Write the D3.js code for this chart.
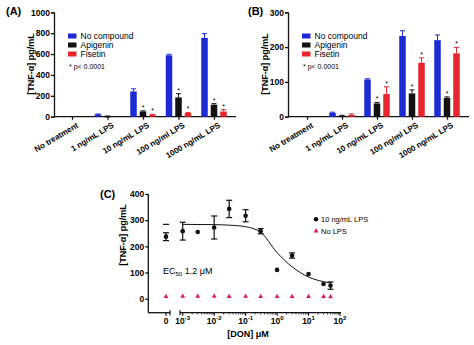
<!DOCTYPE html>
<html>
<head>
<meta charset="utf-8">
<script src="https://cdn.jsdelivr.net/npm/d3@7"></script>
<style>
  body { margin: 0; background: #fff; }
  svg { font-family: "Liberation Sans", Arial, sans-serif; }
  .ax text { font-weight: bold; font-size: 8.5px; }
  .ax path, .ax line { stroke: #111; stroke-width: 1.3; }
</style>
</head>
<body>
<div id="chart"></div>
<script>
// categories and series for panels A and B
const treatments = ["No treatment", "1 ng/mL LPS", "10 ng/mL LPS", "100 ng/ml LPS", "1000 ng/mL LPS"];
const seriesNames = ["No compound", "Apigenin", "Fisetin"];
const seriesColors = ["#1c2bd4", "#111111", "#e8252d"];

// panel A means and upper error (null = no bar)
const aNoCompound = [null, 23, 242, 588, 755];
const aNoCompoundErr = [null, 3, 25, 10, 40];
const aApigenin = [null, 5, 50, 185, 115];
const aApigeninErr = [null, 2, 6, 35, 10];
const aFisetin = [null, null, 18, 35, 50];
const aFisetinErr = [null, null, 4, 6, 18];
const aStars = [[], [], [false, true, true], [false, true, true], [false, true, true]];

// panel B
const bNoCompound = [null, 11, 107, 232, 220];
const bNoCompoundErr = [null, 2, 2, 15, 15];
const bApigenin = [null, 3, 38, 67, 54];
const bApigeninErr = [null, 1, 3, 10, 3];
const bFisetin = [null, 5, 65, 155, 182];
const bFisetinErr = [null, 3, 21, 14, 17];
const bStars = [[], [], [false, true, true], [false, true, true], [false, true, true]];

// panel C: DON dose response
const donDose = [0, 0.001, 0.003, 0.01, 0.03, 0.1, 0.3, 1, 3, 10, 30, 50];
const lpsMean = [237, 258, 255, 272, 343, 317, 258, 110, 165, 94, 56, 50];
const lpsErr = [15, 34, 0, 44, 33, 23, 10, 0, 10, 0, 0, 14];
const noLpsMean = [8, 9, 9, 9, 8, 9, 8, 8, 8, 8, 8, 7];
// fitted curve
const fitDose = [0.001, 0.01, 0.03, 0.1, 0.3, 1, 3, 10, 30, 50];
const fitValue = [284, 283, 281, 275, 254, 176, 122, 83, 65, 60];
const fitTop = 284;

const svg = d3.select('#chart').append('svg')
    .attr('width', 474)
    .attr('height', 345);

function barPanel(opt) {
    const g = svg.append('g');
    const x = d3.scalePoint().domain(treatments).range(opt.xr);
    const y = d3.scaleLinear().domain([0, opt.ymax]).range([116.7, 12.3]);
    const offsets = [-9.5, 0, 9.5];
    const bw = 6.5;

    // y axis
    g.append('g').attr('class', 'ax')
        .attr('transform', `translate(${opt.x0},0)`)
        .call(d3.axisLeft(y).ticks(opt.ticks, 'd').tickSize(3).tickPadding(1));
    // x axis
    const xa = g.append('g').attr('class', 'ax')
        .attr('transform', 'translate(0,116.7)')
        .call(d3.axisBottom(x).tickSize(3).tickFormat(''));
    xa.select('.domain').remove();
    g.append('line')
        .attr('x1', opt.x0).attr('x2', opt.x1)
        .attr('y1', 116.7).attr('y2', 116.7)
        .attr('stroke', '#111').attr('stroke-width', 1.3);

    g.selectAll('.xl').data(treatments).enter().append('text')
        .attr('transform', d => `translate(${x(d) + 4},122) rotate(-31)`)
        .attr('text-anchor', 'end')
        .attr('dy', '0.7em')
        .style('font-size', '8px')
        .style('font-weight', 'bold')
        .text(d => d);

    opt.series.forEach((s, si) => {
        treatments.forEach((t, i) => {
            const v = s.mean[i];
            if (v === null) return;
            const cx = x(t) + offsets[si];
            const top = y(v + s.err[i]);
            g.append('line')
                .attr('x1', cx).attr('x2', cx)
                .attr('y1', y(v)).attr('y2', top)
                .attr('stroke', seriesColors[si]).attr('stroke-width', 1);
            g.append('line')
                .attr('x1', cx - 2.5).attr('x2', cx + 2.5)
                .attr('y1', top).attr('y2', top)
                .attr('stroke', seriesColors[si]).attr('stroke-width', 1);
            g.append('rect')
                .attr('x', cx - bw / 2)
                .attr('y', y(v))
                .attr('width', bw)
                .attr('height', Math.max(1.2, y(0) - y(v)))
                .attr('fill', seriesColors[si]);
            if (opt.stars[i][si]) {
                g.append('text')
                    .attr('x', cx).attr('y', top - 1)
                    .attr('text-anchor', 'middle')
                    .style('font-size', '7px')
                    .text('*');
            }
        });
    });

    // legend
    seriesNames.forEach((n, i) => {
        g.append('rect')
            .attr('x', opt.lx).attr('y', 33.5 + i * 9)
            .attr('width', 8.5).attr('height', 5)
            .attr('fill', seriesColors[i]);
        g.append('text')
            .attr('x', opt.lx + 12.5).attr('y', 36 + i * 9)
            .attr('dy', '0.35em')
            .style('font-size', '8.5px')
            .text(n);
    });
    g.append('text')
        .attr('x', opt.lx + 1).attr('y', 67)
        .attr('dy', '0.35em')
        .style('font-size', '7px')
        .text('* p< 0.0001');

    // titles
    g.append('text')
        .attr('transform', `translate(${opt.x0 - 23},64) rotate(-90)`)
        .attr('text-anchor', 'middle')
        .attr('dy', '0.35em')
        .style('font-size', '9px')
        .style('font-weight', 'bold')
        .text('[TNF-α] pg/mL');
    g.append('text')
        .attr('x', opt.labelX).attr('y', 15)
        .style('font-size', '11px')
        .style('font-weight', 'bold')
        .text(opt.label);
}

barPanel({
    x0: 54, x1: 236, xr: [72, 214], ymax: 1000, ticks: 5,
    series: [
        { mean: aNoCompound, err: aNoCompoundErr },
        { mean: aApigenin, err: aApigeninErr },
        { mean: aFisetin, err: aFisetinErr }
    ],
    stars: aStars, lx: 68, label: '(A)', labelX: 6
});

barPanel({
    x0: 288, x1: 469, xr: [307, 447], ymax: 300, ticks: 3,
    series: [
        { mean: bNoCompound, err: bNoCompoundErr },
        { mean: bApigenin, err: bApigeninErr },
        { mean: bFisetin, err: bFisetinErr }
    ],
    stars: bStars, lx: 302, label: '(B)', labelX: 248
});

// ---- panel C ----
const gc = svg.append('g');
const yc = d3.scaleLinear().domain([0, 400]).range([298.7, 194]);
const xc = d3.scaleLog().domain([1e-3, 1e2]).range([182.7, 340]);
const xZero = 166;
const axisY = 312.7;
const px = d => d === 0 ? xZero : xc(d);

gc.append('g').attr('class', 'ax')
    .attr('transform', 'translate(148.3,0)')
    .call(d3.axisLeft(yc).ticks(4).tickSize(3).tickPadding(1))
    .select('.domain').remove();
gc.append('line')
    .attr('x1', 148.3).attr('x2', 148.3)
    .attr('y1', 194).attr('y2', axisY)
    .attr('stroke', '#111').attr('stroke-width', 1.3);

// broken x axis
[[148.3, 170], [180, 341]].forEach(([a, b]) => {
    gc.append('line')
        .attr('x1', a).attr('x2', b)
        .attr('y1', axisY).attr('y2', axisY)
        .attr('stroke', '#111').attr('stroke-width', 1.3);
});
[170, 180].forEach(xx => {
    gc.append('line')
        .attr('x1', xx).attr('x2', xx)
        .attr('y1', axisY - 2.5).attr('y2', axisY + 2.5)
        .attr('stroke', '#111').attr('stroke-width', 1.2);
});
gc.append('line')
    .attr('x1', xZero).attr('x2', xZero)
    .attr('y1', axisY).attr('y2', axisY + 3)
    .attr('stroke', '#111').attr('stroke-width', 1.2);
gc.append('text')
    .attr('x', xZero).attr('y', axisY + 11)
    .attr('text-anchor', 'middle')
    .style('font-size', '8.5px').style('font-weight', 'bold')
    .text('0');

const majorTicks = [-3, -2, -1, 0, 1, 2];
const minorTicks = xc.ticks().filter(t => Math.abs(Math.log10(t) % 1) > 1e-6);
gc.selectAll('.mt').data(minorTicks).enter().append('line')
    .attr('x1', d => xc(d)).attr('x2', d => xc(d))
    .attr('y1', axisY).attr('y2', axisY + 1.8)
    .attr('stroke', '#111').attr('stroke-width', 0.8);
majorTicks.forEach(p => {
    const xx = xc(Math.pow(10, p));
    gc.append('line')
        .attr('x1', xx).attr('x2', xx)
        .attr('y1', axisY).attr('y2', axisY + 3)
        .attr('stroke', '#111').attr('stroke-width', 1.2);
    const t = gc.append('text')
        .attr('x', xx).attr('y', axisY + 11)
        .attr('text-anchor', 'middle')
        .style('font-size', '8.5px').style('font-weight', 'bold');
    t.append('tspan').text('10');
    t.append('tspan').attr('dy', -3.5).style('font-size', '6px').text(p);
});

gc.append('text')
    .attr('x', 248).attr('y', 337)
    .attr('text-anchor', 'middle')
    .style('font-size', '9px').style('font-weight', 'bold')
    .text('[DON] μM');
gc.append('text')
    .attr('transform', 'translate(123,235) rotate(-90)')
    .attr('text-anchor', 'middle')
    .attr('dy', '0.35em')
    .style('font-size', '9px').style('font-weight', 'bold')
    .text('[TNF-α] pg/mL');
gc.append('text')
    .attr('x', 100).attr('y', 198)
    .style('font-size', '11px').style('font-weight', 'bold')
    .text('(C)');

// fitted curve
const line = d3.line()
    .x(d => xc(d[0]))
    .y(d => yc(d[1]))
    .curve(d3.curveMonotoneX);
gc.append('path')
    .datum(d3.zip(fitDose, fitValue))
    .attr('d', line)
    .attr('fill', 'none')
    .attr('stroke', '#111')
    .attr('stroke-width', 1);
gc.append('line')
    .attr('x1', xZero - 3).attr('x2', xZero + 3)
    .attr('y1', yc(fitTop)).attr('y2', yc(fitTop))
    .attr('stroke', '#111').attr('stroke-width', 1.2);

// LPS points with error bars
donDose.forEach((d, i) => {
    const cx = px(d);
    if (lpsErr[i] > 0) {
        const t = yc(lpsMean[i] + lpsErr[i]);
        const b = yc(lpsMean[i] - lpsErr[i]);
        gc.append('line').attr('x1', cx).attr('x2', cx).attr('y1', t).attr('y2', b)
            .attr('stroke', '#111').attr('stroke-width', 1.2);
        [t, b].forEach(yy => gc.append('line')
            .attr('x1', cx - 3).attr('x2', cx + 3).attr('y1', yy).attr('y2', yy)
            .attr('stroke', '#111').attr('stroke-width', 1.2));
    }
    gc.append('circle')
        .attr('cx', cx).attr('cy', yc(lpsMean[i]))
        .attr('r', 2.3).attr('fill', '#111');
});

// no LPS triangles
const tri = d3.symbol().type(d3.symbolTriangle).size(10);
donDose.forEach((d, i) => {
    gc.append('path')
        .attr('d', tri)
        .attr('transform', `translate(${px(d)},${yc(noLpsMean[i])})`)
        .attr('fill', '#e0185a');
});

// legend C
gc.append('circle').attr('cx', 316).attr('cy', 219.3).attr('r', 2.3).attr('fill', '#111');
gc.append('text').attr('x', 321).attr('y', 219.3).attr('dy', '0.35em')
    .style('font-size', '7.5px').text('10 ng/mL LPS');
gc.append('path').attr('d', tri)
    .attr('transform', 'translate(316,231)').attr('fill', '#e0185a');
gc.append('text').attr('x', 321).attr('y', 231).attr('dy', '0.35em')
    .style('font-size', '7.5px').text('No LPS');

// EC50 annotation
const ec = gc.append('text').attr('x', 163).attr('y', 274).style('font-size', '9px');
ec.append('tspan').text('EC');
ec.append('tspan').attr('dy', 2).style('font-size', '6px').text('50');
ec.append('tspan').attr('dy', -2).text(' 1.2 μM');
</script>
</body>
</html>
